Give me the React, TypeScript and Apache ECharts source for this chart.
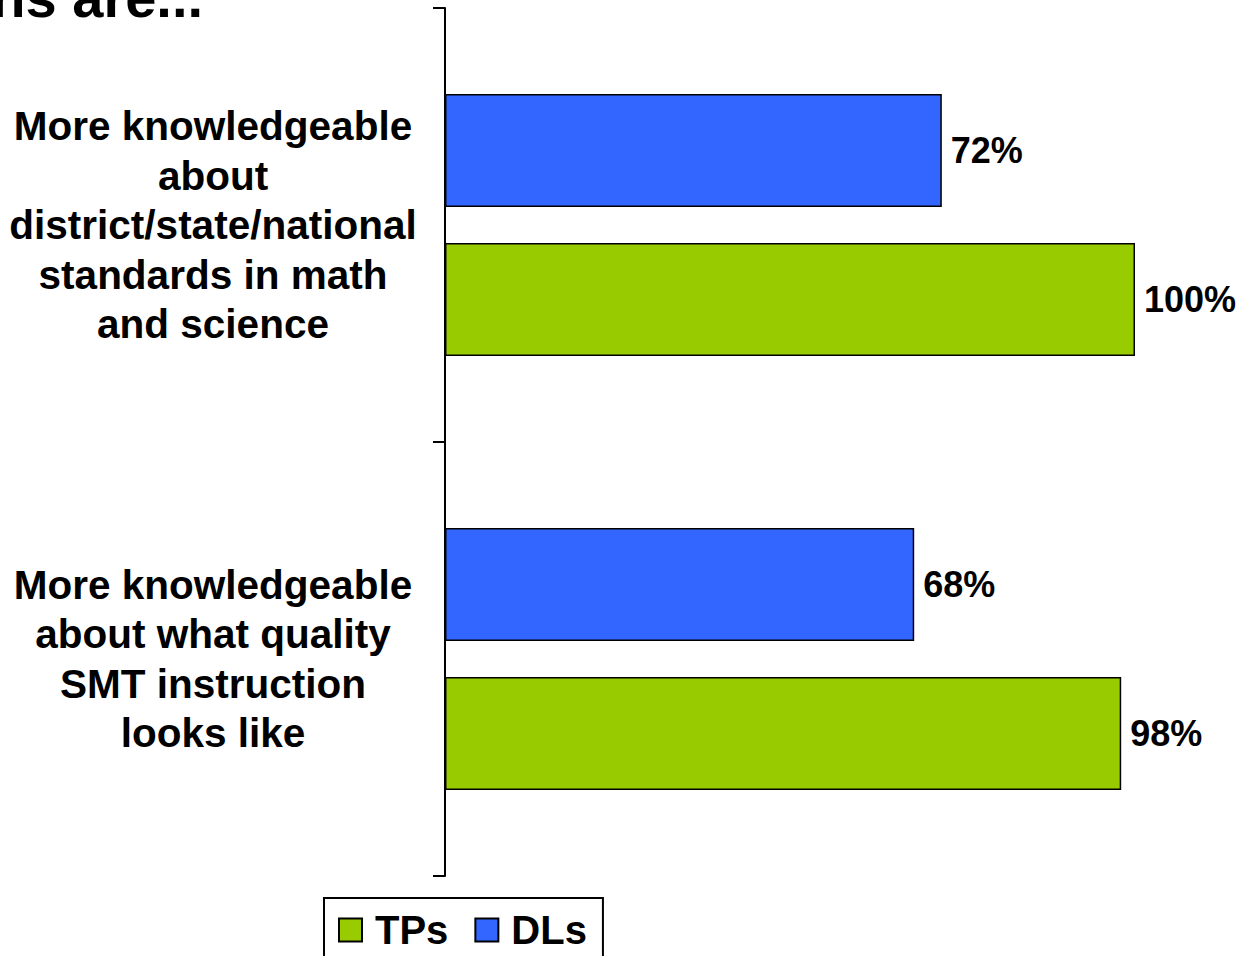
import React, { useEffect, useRef } from "react";
import * as echarts from "echarts";

// Statement categories, listed top to bottom
const categories: string[] = [
  "More knowledgeable\nabout\ndistrict/state/national\nstandards in math\nand science",
  "More knowledgeable\nabout what quality\nSMT instruction\nlooks like",
];

// Percent agreeing, by group
const dlValues: number[] = [72, 68];
const tpValues: number[] = [100, 98];

const legendOrder: string[] = ["TPs", "DLs"];
const titleFragment = "ns are...";

const FONT = '"Liberation Sans", Arial, sans-serif';

export default function App() {
  const ref = useRef<HTMLDivElement>(null);

  useEffect(() => {
    if (!ref.current) return;
    const chart = echarts.init(ref.current, undefined, { renderer: "svg" });
    const labelStyle = {
      show: true,
      position: "right" as const,
      distance: 9,
      formatter: "{c}%",
      color: "#000",
      fontSize: 36,
      fontWeight: "bold" as const,
      fontFamily: FONT,
    };
    chart.setOption({
      animation: false,
      backgroundColor: "#fff",
      textStyle: { fontFamily: FONT },
      graphic: [
        {
          type: "text",
          x: 203,
          y: -3,
          style: {
            text: titleFragment,
            font: `bold 56px ${FONT}`,
            fill: "#000",
            align: "right",
            verticalAlign: "middle",
          },
        },
      ],
      legend: {
        data: legendOrder,
        left: 324,
        top: 898,
        orient: "horizontal",
        icon: "rect",
        itemWidth: 23,
        itemHeight: 23,
        itemGap: 26,
        padding: [12, 16, 30, 14],
        borderColor: "#000",
        borderWidth: 2,
        textStyle: {
          color: "#000",
          fontSize: 40,
          fontWeight: "bold",
          fontFamily: FONT,
          padding: [0, 0, 0, 8],
        },
      },
      grid: { left: 445, right: 109, top: 8, bottom: 80, containLabel: false },
      xAxis: { type: "value", min: 0, max: 100, show: false },
      yAxis: {
        type: "category",
        inverse: true,
        data: categories,
        axisLine: { show: true, lineStyle: { color: "#000", width: 2 } },
        axisTick: { show: true, length: 12, lineStyle: { color: "#000", width: 2 } },
        axisLabel: {
          color: "#000",
          fontSize: 40.5,
          fontWeight: "bold",
          fontFamily: FONT,
          lineHeight: 49.5,
          align: "center",
          margin: 232,
        },
        splitLine: { show: false },
      },
      series: [
        {
          name: "DLs",
          type: "bar",
          data: dlValues,
          barWidth: 113,
          barGap: "32%",
          itemStyle: { color: "#3366FF", borderColor: "#000", borderWidth: 1.5 },
          label: labelStyle,
        },
        {
          name: "TPs",
          type: "bar",
          data: tpValues,
          barWidth: 113,
          barGap: "32%",
          itemStyle: { color: "#99CC00", borderColor: "#000", borderWidth: 1.5 },
          label: labelStyle,
        },
      ],
    });
    return () => chart.dispose();
  }, []);

  return (
    <div
      ref={ref}
      style={{ position: "fixed", left: 0, top: 0, width: 1244, height: 956 }}
    />
  );
}
